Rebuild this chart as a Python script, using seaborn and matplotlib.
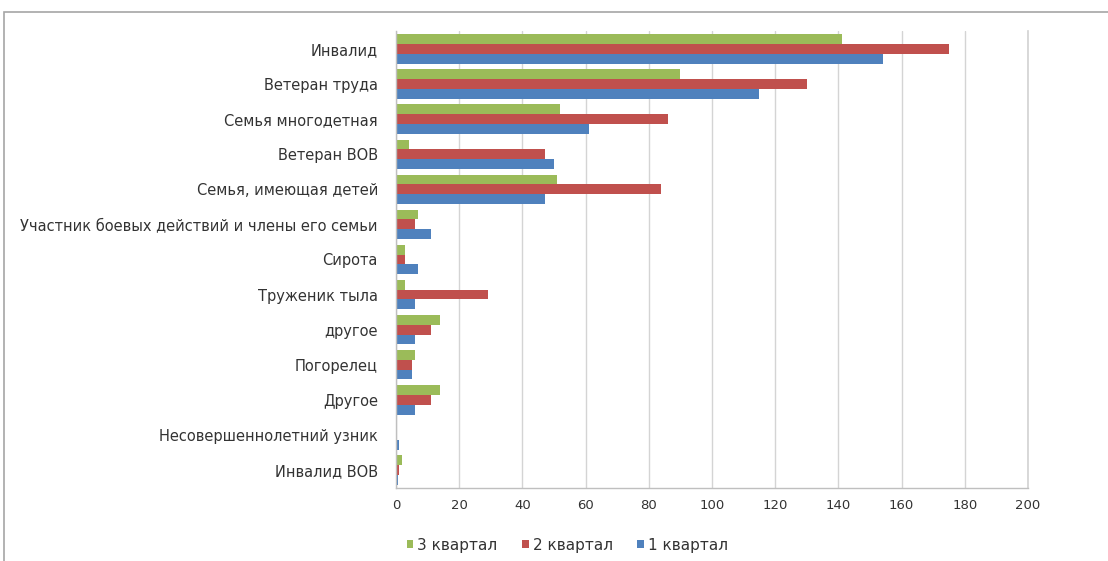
import pandas as pd
import matplotlib.pyplot as plt
import seaborn as sns
from matplotlib.patches import Rectangle

sns.set_theme(style="white")
plt.rcParams['font.family'] = ['DejaVu Sans']

# --- DATA ---
categories = ['Инвалид', 'Ветеран труда', 'Семья многодетная', 'Ветеран ВОВ',
              'Семья, имеющая детей', 'Участник боевых действий и члены его семьи',
              'Сирота', 'Труженик тыла', 'другое', 'Погорелец', 'Другое',
              'Несовершеннолетний узник', 'Инвалид ВОВ']
q3 = [141, 90, 52, 4, 51, 7, 3, 3, 14, 6, 14, 0, 2]
q2 = [175, 130, 86, 47, 84, 6, 3, 29, 11, 5, 11, 0, 1]
q1 = [154, 115, 61, 50, 47, 11, 7, 6, 6, 5, 6, 1, 0.7]
series = ['3 квартал', '2 квартал', '1 квартал']
colors = ['#9BBB59', '#C0504D', '#4F81BD']

df = pd.DataFrame({'cat': categories, series[0]: q3, series[1]: q2, series[2]: q1})
long_df = df.melt(id_vars='cat', var_name='Квартал', value_name='value')

fig = plt.figure(figsize=(11.08, 5.61), dpi=100)
ax = fig.add_axes([0.3574, 0.131, 0.5704, 0.8129])

sns.barplot(data=long_df, y='cat', x='value', hue='Квартал', hue_order=series,
            order=categories, palette=colors, orient='h', width=0.84,
            saturation=1, linewidth=0, ax=ax)

ax.set_xlim(0, 200)
ax.set_xticks(range(0, 201, 20))
ax.set_ylabel('')
ax.set_xlabel('')
ax.grid(axis='x', color='#d4d4d4', linewidth=1)
ax.set_axisbelow(True)
ax.spines['top'].set_visible(False)
ax.spines['right'].set_color('#d4d4d4')
for s in ['left', 'bottom']:
    ax.spines[s].set_color('#bfbfbf')
    ax.spines[s].set_linewidth(1)
ax.tick_params(axis='y', length=0, labelsize=10.5, colors='#333333', pad=13)
ax.tick_params(axis='x', length=0, labelsize=9.5, colors='#333333', pad=8)

ax.legend_.remove()
handles, labels = ax.get_legend_handles_labels()
fig.legend(handles, labels, loc='center', bbox_to_anchor=(0.512, 0.028), ncol=3,
           frameon=False, fontsize=11, handlelength=0.45, handleheight=0.45,
           handletextpad=0.25, columnspacing=1.6, labelcolor='#333333')

# outer chart frame
fig.patches.append(Rectangle((4 / 1108, -0.05), 1.1, 1 - 12 / 561 + 0.05,
                             transform=fig.transFigure, fill=False,
                             edgecolor='#a6a6a6', linewidth=1.2))

fig.savefig('out.png', dpi=100)
